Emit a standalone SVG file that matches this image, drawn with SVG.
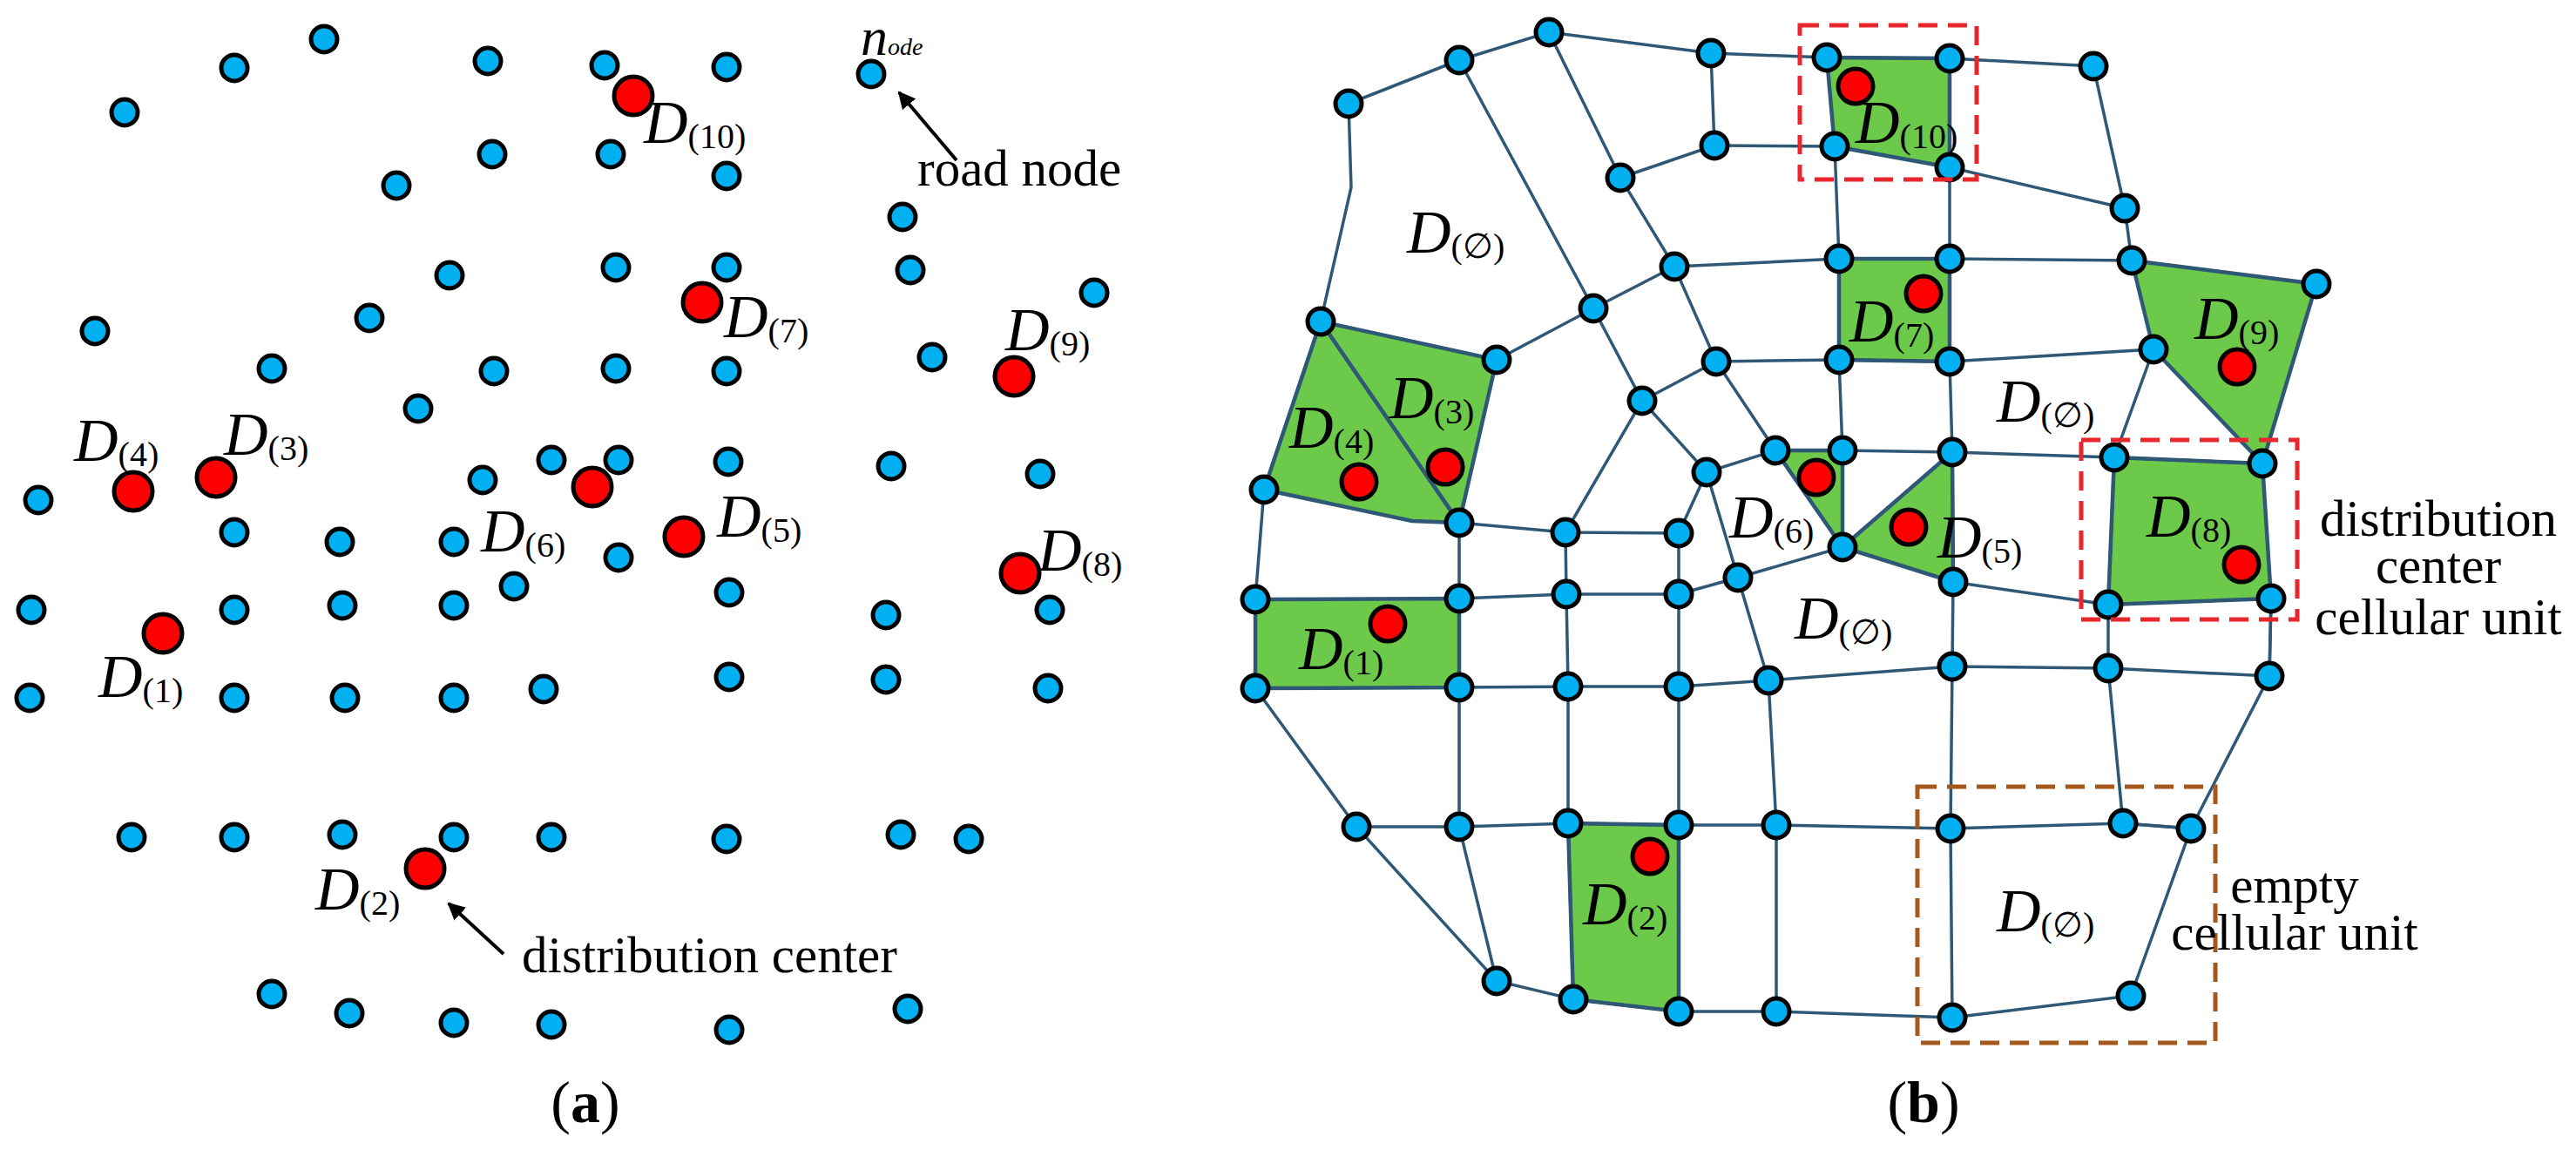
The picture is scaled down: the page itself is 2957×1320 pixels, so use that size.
<svg xmlns="http://www.w3.org/2000/svg" width="2957" height="1320" viewBox="0 0 2957 1320">
<style>
.b{fill:#00b0f0;stroke:#000;stroke-width:5}
.r{fill:#ff0000;stroke:#000;stroke-width:5}
.e{stroke:#2e5876;stroke-width:3.5;fill:none}
.g{fill:#6cc94a;stroke:#2e5876;stroke-width:4.5}
.t{font-family:"Liberation Serif",serif;font-size:59px;fill:#000}
.d{font-family:"Liberation Serif",serif;font-size:70px;font-style:italic;fill:#000}
.s{font-size:40px;font-style:normal}
.box{fill:none;stroke-width:5;stroke-dasharray:22 12}
</style>
<defs><marker id="ar" viewBox="0 0 10 10" refX="9" refY="5" markerWidth="5" markerHeight="5" orient="auto"><path d="M0,0L10,5L0,10z" fill="#000"/></marker></defs>
<rect width="2957" height="1320" fill="#fff"/>
<g id="panel-a">
<g id="a-nodes">
<circle class="b" cx="372" cy="45" r="15"/><circle class="b" cx="269" cy="78" r="15"/><circle class="b" cx="143" cy="129" r="15"/><circle class="b" cx="560" cy="70" r="15"/><circle class="b" cx="694" cy="75" r="15"/><circle class="b" cx="834" cy="77" r="15"/><circle class="b" cx="1000" cy="85" r="15"/>
<circle class="b" cx="565" cy="177" r="15"/><circle class="b" cx="701" cy="177" r="15"/><circle class="b" cx="834" cy="202" r="15"/><circle class="b" cx="455" cy="213" r="15"/><circle class="b" cx="1036" cy="249" r="15"/>
<circle class="b" cx="516" cy="316" r="15"/><circle class="b" cx="707" cy="307" r="15"/><circle class="b" cx="834" cy="307" r="15"/><circle class="b" cx="1045" cy="310" r="15"/><circle class="b" cx="1256" cy="336" r="15"/>
<circle class="b" cx="109" cy="380" r="15"/><circle class="b" cx="424" cy="365" r="15"/><circle class="b" cx="312" cy="423" r="15"/><circle class="b" cx="567" cy="426" r="15"/><circle class="b" cx="707" cy="423" r="15"/><circle class="b" cx="834" cy="426" r="15"/><circle class="b" cx="1070" cy="410" r="15"/><circle class="b" cx="480" cy="469" r="15"/>
<circle class="b" cx="44" cy="574" r="15"/><circle class="b" cx="554" cy="551" r="15"/><circle class="b" cx="633" cy="528" r="15"/><circle class="b" cx="710" cy="528" r="15"/><circle class="b" cx="836" cy="530" r="15"/><circle class="b" cx="1023" cy="535" r="15"/><circle class="b" cx="1194" cy="544" r="15"/>
<circle class="b" cx="269" cy="611" r="15"/><circle class="b" cx="390" cy="622" r="15"/><circle class="b" cx="521" cy="622" r="15"/><circle class="b" cx="710" cy="640" r="15"/>
<circle class="b" cx="36" cy="700" r="15"/><circle class="b" cx="269" cy="700" r="15"/><circle class="b" cx="393" cy="695" r="15"/><circle class="b" cx="521" cy="695" r="15"/><circle class="b" cx="590" cy="673" r="15"/><circle class="b" cx="837" cy="680" r="15"/><circle class="b" cx="1017" cy="706" r="15"/><circle class="b" cx="1205" cy="700" r="15"/>
<circle class="b" cx="34" cy="801" r="15"/><circle class="b" cx="269" cy="801" r="15"/><circle class="b" cx="396" cy="801" r="15"/><circle class="b" cx="521" cy="801" r="15"/><circle class="b" cx="624" cy="791" r="15"/><circle class="b" cx="837" cy="777" r="15"/><circle class="b" cx="1017" cy="780" r="15"/><circle class="b" cx="1203" cy="790" r="15"/>
<circle class="b" cx="151" cy="961" r="15"/><circle class="b" cx="269" cy="961" r="15"/><circle class="b" cx="393" cy="958" r="15"/><circle class="b" cx="521" cy="961" r="15"/><circle class="b" cx="633" cy="961" r="15"/><circle class="b" cx="834" cy="963" r="15"/><circle class="b" cx="1034" cy="958" r="15"/><circle class="b" cx="1112" cy="963" r="15"/>
<circle class="b" cx="312" cy="1141" r="15"/><circle class="b" cx="401" cy="1163" r="15"/><circle class="b" cx="521" cy="1174" r="15"/><circle class="b" cx="633" cy="1176" r="15"/><circle class="b" cx="837" cy="1182" r="15"/><circle class="b" cx="1042" cy="1158" r="15"/>
</g>
<g id="a-centers">
<circle class="r" cx="727" cy="110" r="22"/><circle class="r" cx="806" cy="347" r="22"/><circle class="r" cx="1164" cy="432" r="22"/><circle class="r" cx="153" cy="564" r="22"/><circle class="r" cx="248" cy="548" r="22"/><circle class="r" cx="680" cy="559" r="22"/><circle class="r" cx="785" cy="616" r="22"/><circle class="r" cx="1171" cy="658" r="22"/><circle class="r" cx="187" cy="727" r="22"/><circle class="r" cx="488" cy="997" r="22"/>
</g>
<g id="a-labels">
<text class="d" x="739" y="164">D<tspan class="s" dy="6">(10)</tspan></text>
<text class="d" x="831" y="387">D<tspan class="s" dy="6">(7)</tspan></text>
<text class="d" x="1154" y="402">D<tspan class="s" dy="6">(9)</tspan></text>
<text class="d" x="85" y="529">D<tspan class="s" dy="6">(4)</tspan></text>
<text class="d" x="257" y="522">D<tspan class="s" dy="6">(3)</tspan></text>
<text class="d" x="552" y="633">D<tspan class="s" dy="6">(6)</tspan></text>
<text class="d" x="823" y="616">D<tspan class="s" dy="6">(5)</tspan></text>
<text class="d" x="1191" y="655">D<tspan class="s" dy="6">(8)</tspan></text>
<text class="d" x="113" y="800">D<tspan class="s" dy="6">(1)</tspan></text>
<text class="d" x="362" y="1044">D<tspan class="s" dy="6">(2)</tspan></text>
<text class="d" x="988" y="63" style="font-size:62px">n<tspan class="s" style="font-size:28px;font-style:italic">ode</tspan></text>
<text class="t" x="1053" y="213">road node</text>
<text class="t" x="599" y="1116">distribution center</text>
<text class="t" x="672" y="1288" text-anchor="middle" style="font-size:68px">(<tspan font-weight="bold">a</tspan>)</text>
</g>
<g id="a-arrows" stroke="#000" stroke-width="4" fill="none">
<line x1="1098" y1="184" x2="1032" y2="106" marker-end="url(#ar)"/>
<line x1="578" y1="1095" x2="515" y2="1037" marker-end="url(#ar)"/>
</g>
</g>
<g id="panel-b">
<g id="cells">
<polygon class="g" points="2097,66 2238,67 2238,192 2106,168"/>
<polygon class="g" points="2111,297 2238,297 2238,415 2111,413"/>
<polygon class="g" points="2447,299 2659,326 2597,532 2472,401"/>
<polygon class="g" points="2427,525 2597,532 2607,687 2420,694"/>
<polygon class="g" points="1451,562 1516,369 1675,600 1621,598"/>
<polygon class="g" points="1516,369 1718,413 1675,600"/>
<polygon class="g" points="2038,517 2115,517 2115,628"/>
<polygon class="g" points="2241,519 2242,668 2115,628"/>
<polygon class="g" points="1441,688 1675,687 1675,789 1441,790"/>
<polygon class="g" points="1800,945 1927,947 1927,1161 1806,1147"/>
</g>
<g id="connectors" class="e">
<polyline points="1675,69 1778,37 1964,61 2097,66 2238,67 2403,76 2439,239 2447,299"/>
<polyline points="1675,69 1548,119 1551,215 1516,369 1451,562 1441,688 1441,790 1557,949 1718,1126 1806,1147 1927,1161 2039,1161 2241,1168 2446,1143 2515,951 2605,776 2607,687"/>
<polyline points="1675,69 1829,354 1885,460 1797,611 1798,682 1800,788 1800,945 1806,1147"/>
<polyline points="1778,37 1860,204 1922,306 1970,415 2038,517 2115,628 2242,668 2420,694"/>
<polyline points="1964,61 1968,167 1860,204"/>
<line x1="1968" y1="167" x2="2106" y2="168"/>
<polyline points="2106,168 2111,297 2111,413 2115,517 2115,628"/>
<polyline points="2238,67 2238,192 2238,297 2238,415 2241,519 2242,668 2241,765 2239,951 2241,1168"/>
<polyline points="2238,192 2439,239"/>
<polyline points="1922,306 2111,297 2238,297 2447,299"/>
<polyline points="1829,354 1922,306"/>
<polyline points="1718,413 1829,354"/>
<polyline points="1885,460 1970,415 2111,413 2238,415 2472,401 2427,525 2420,694 2420,767 2437,945 2515,951"/>
<polyline points="1885,460 1959,542 2038,517 2115,517 2241,519 2427,525 2597,532"/>
<polyline points="1959,542 1927,612 1927,682 1927,788 1927,947 1927,1161"/>
<polyline points="1959,542 1995,663 2030,781 2039,947 2039,1161"/>
<polyline points="1927,682 1995,663 2115,628"/>
<polyline points="1675,600 1797,611 1927,612"/>
<polyline points="1675,600 1675,687 1675,789 1675,949 1718,1126"/>
<polyline points="1675,687 1798,682 1927,682"/>
<polyline points="1675,789 1800,788 1927,788 2030,781 2241,765 2420,767 2605,776 2607,687"/>
<polyline points="1557,949 1675,949 1800,945 1927,947 2039,947 2239,951 2437,945 2515,951"/>
</g>
<g id="b-nodes">
<circle class="b" cx="1778" cy="37" r="15"/><circle class="b" cx="1675" cy="69" r="15"/><circle class="b" cx="1548" cy="119" r="15"/><circle class="b" cx="1964" cy="61" r="15"/><circle class="b" cx="2097" cy="66" r="15"/><circle class="b" cx="2238" cy="67" r="15"/><circle class="b" cx="2403" cy="76" r="15"/>
<circle class="b" cx="1968" cy="167" r="15"/><circle class="b" cx="2106" cy="168" r="15"/><circle class="b" cx="2238" cy="192" r="15"/><circle class="b" cx="1860" cy="204" r="15"/><circle class="b" cx="2439" cy="239" r="15"/>
<circle class="b" cx="1922" cy="306" r="15"/><circle class="b" cx="2111" cy="297" r="15"/><circle class="b" cx="2238" cy="297" r="15"/><circle class="b" cx="2447" cy="299" r="15"/><circle class="b" cx="2659" cy="326" r="15"/>
<circle class="b" cx="1516" cy="369" r="15"/><circle class="b" cx="1829" cy="354" r="15"/><circle class="b" cx="1718" cy="413" r="15"/><circle class="b" cx="1970" cy="415" r="15"/><circle class="b" cx="2111" cy="413" r="15"/><circle class="b" cx="2238" cy="415" r="15"/><circle class="b" cx="2472" cy="401" r="15"/>
<circle class="b" cx="1885" cy="460" r="15"/><circle class="b" cx="2038" cy="517" r="15"/><circle class="b" cx="2115" cy="517" r="15"/><circle class="b" cx="2241" cy="519" r="15"/><circle class="b" cx="2427" cy="525" r="15"/><circle class="b" cx="2597" cy="532" r="15"/><circle class="b" cx="1959" cy="542" r="15"/>
<circle class="b" cx="1675" cy="600" r="15"/><circle class="b" cx="1797" cy="611" r="15"/><circle class="b" cx="1927" cy="612" r="15"/><circle class="b" cx="2115" cy="628" r="15"/><circle class="b" cx="1995" cy="663" r="15"/><circle class="b" cx="2242" cy="668" r="15"/><circle class="b" cx="2420" cy="694" r="15"/><circle class="b" cx="2607" cy="687" r="15"/>
<circle class="b" cx="1451" cy="562" r="15"/><circle class="b" cx="1441" cy="688" r="15"/><circle class="b" cx="1441" cy="790" r="15"/>
<circle class="b" cx="1675" cy="687" r="15"/><circle class="b" cx="1798" cy="682" r="15"/><circle class="b" cx="1927" cy="682" r="15"/>
<circle class="b" cx="1675" cy="789" r="15"/><circle class="b" cx="1800" cy="788" r="15"/><circle class="b" cx="1927" cy="788" r="15"/><circle class="b" cx="2030" cy="781" r="15"/><circle class="b" cx="2241" cy="765" r="15"/><circle class="b" cx="2420" cy="767" r="15"/><circle class="b" cx="2605" cy="776" r="15"/>
<circle class="b" cx="1557" cy="949" r="15"/><circle class="b" cx="1675" cy="949" r="15"/><circle class="b" cx="1800" cy="945" r="15"/><circle class="b" cx="1927" cy="947" r="15"/><circle class="b" cx="2039" cy="947" r="15"/><circle class="b" cx="2239" cy="951" r="15"/><circle class="b" cx="2437" cy="945" r="15"/><circle class="b" cx="2515" cy="951" r="15"/>
<circle class="b" cx="1718" cy="1126" r="15"/><circle class="b" cx="1806" cy="1147" r="15"/><circle class="b" cx="1927" cy="1161" r="15"/><circle class="b" cx="2039" cy="1161" r="15"/><circle class="b" cx="2241" cy="1168" r="15"/><circle class="b" cx="2446" cy="1143" r="15"/>
</g>
<g id="b-centers">
<circle class="r" cx="2130" cy="99" r="20"/><circle class="r" cx="2208" cy="337" r="20"/><circle class="r" cx="2568" cy="421" r="20"/><circle class="r" cx="1659" cy="536" r="20"/><circle class="r" cx="1560" cy="553" r="20"/><circle class="r" cx="2085" cy="548" r="20"/><circle class="r" cx="2191" cy="605" r="20"/><circle class="r" cx="2573" cy="648" r="20"/><circle class="r" cx="1593" cy="716" r="20"/><circle class="r" cx="1894" cy="983" r="20"/>
</g>
<g id="boxes">
<rect class="box" stroke="#e8262b" x="2066" y="29" width="203" height="177"/>
<rect class="box" stroke="#e8262b" x="2389" y="505" width="248" height="206"/>
<rect class="box" stroke="#a4581c" x="2201" y="903" width="342" height="294"/>
</g>
<g id="b-labels">
<text class="d" x="1615" y="290">D<tspan class="s" dy="6">(∅)</tspan></text>
<text class="d" x="2130" y="164">D<tspan class="s" dy="6">(10)</tspan></text>
<text class="d" x="2123" y="392">D<tspan class="s" dy="6">(7)</tspan></text>
<text class="d" x="2519" y="389">D<tspan class="s" dy="6">(9)</tspan></text>
<text class="d" x="1595" y="480">D<tspan class="s" dy="6">(3)</tspan></text>
<text class="d" x="1480" y="514">D<tspan class="s" dy="6">(4)</tspan></text>
<text class="d" x="2292" y="484">D<tspan class="s" dy="6">(∅)</tspan></text>
<text class="d" x="1985" y="617">D<tspan class="s" dy="6">(6)</tspan></text>
<text class="d" x="2224" y="640">D<tspan class="s" dy="6">(5)</tspan></text>
<text class="d" x="2464" y="616">D<tspan class="s" dy="6">(8)</tspan></text>
<text class="d" x="2060" y="733">D<tspan class="s" dy="6">(∅)</tspan></text>
<text class="d" x="1491" y="768">D<tspan class="s" dy="6">(1)</tspan></text>
<text class="d" x="1817" y="1061">D<tspan class="s" dy="6">(2)</tspan></text>
<text class="d" x="2292" y="1069">D<tspan class="s" dy="6">(∅)</tspan></text>
<text class="t" text-anchor="middle"><tspan x="2799" y="615">distribution</tspan><tspan x="2799" y="669">center</tspan><tspan x="2799" y="728">cellular unit</tspan></text>
<text class="t" text-anchor="middle"><tspan x="2634" y="1036">empty</tspan><tspan x="2634" y="1090">cellular unit</tspan></text>
<text class="t" x="2208" y="1288" text-anchor="middle" style="font-size:68px">(<tspan font-weight="bold">b</tspan>)</text>
</g>
</g>
</svg>
